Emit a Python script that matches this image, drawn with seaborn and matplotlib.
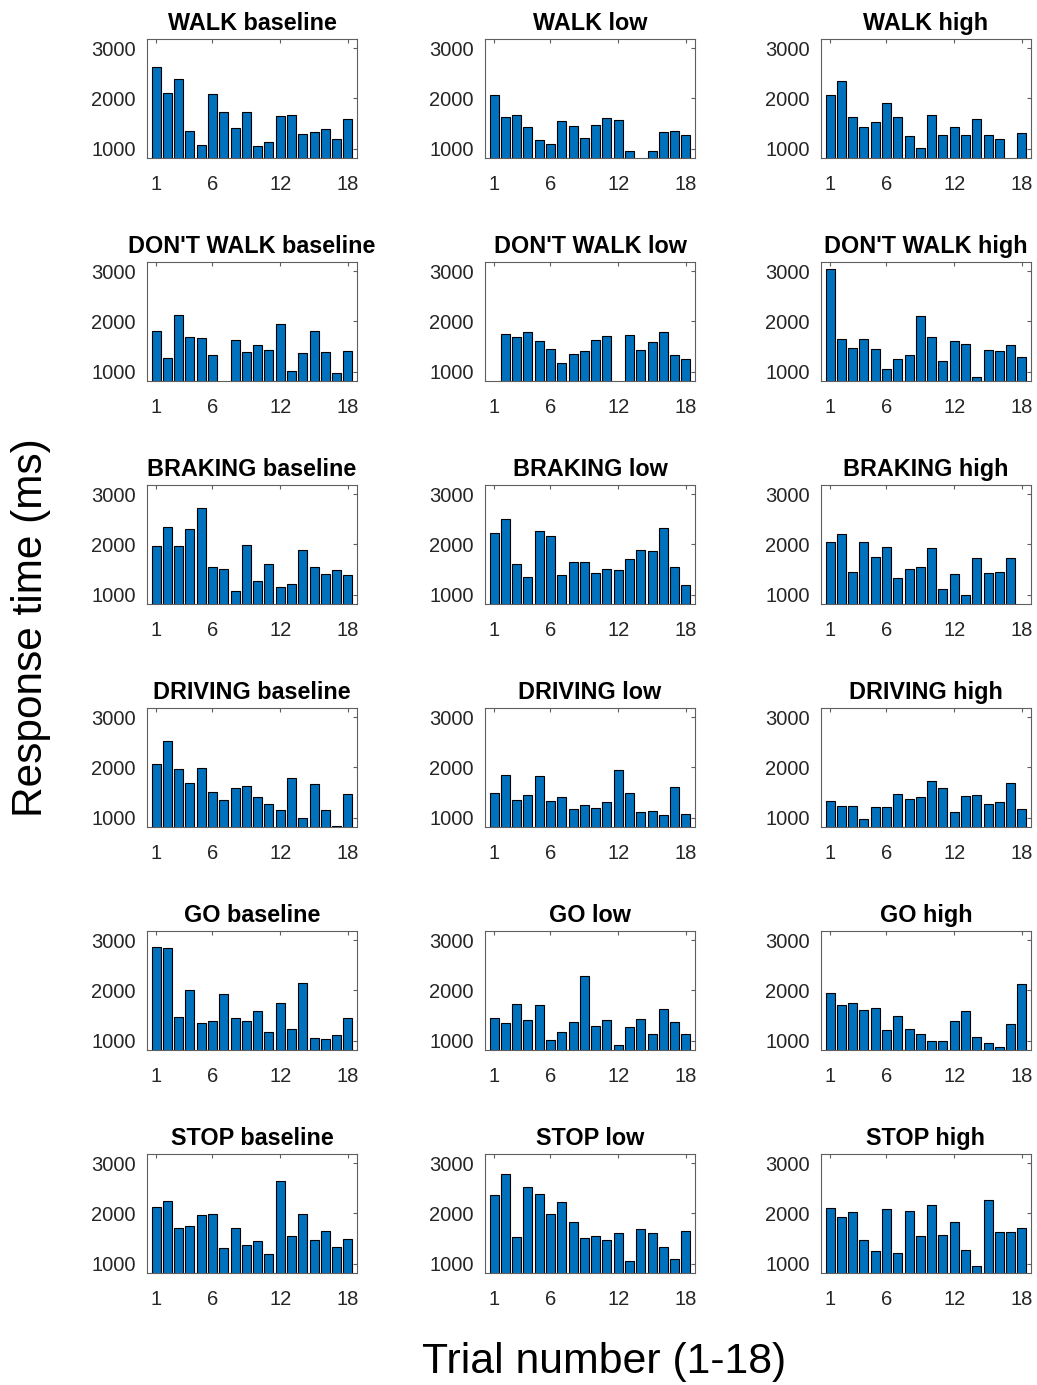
import numpy as np
import pandas as pd
import matplotlib
matplotlib.use("Agg")
import matplotlib.pyplot as plt
import seaborn as sns

nan = np.nan
trials = list(range(1, 19))
conditions = ["WALK", "DON'T WALK", "BRAKING", "DRIVING", "GO", "STOP"]
loads = ["baseline", "low", "high"]

walk_baseline = [2613, 2113, 2387, 1353, 1067, 2087, 1733, 1413, 1727, 1053, 1133, 1647, 1673, 1280, 1333, 1387, 1200, 1587]
walk_low = [2060, 1633, 1667, 1420, 1173, 1087, 1547, 1453, 1207, 1473, 1600, 1573, 947, nan, 947, 1327, 1347, 1260]
walk_high = [2060, 2340, 1620, 1427, 1527, 1913, 1627, 1240, 1007, 1667, 1267, 1420, 1267, 1593, 1267, 1187, nan, 1307]

dontwalk_baseline = [1813, 1273, 2127, 1687, 1660, 1327, nan, 1620, 1380, 1520, 1420, 1947, 1013, 1373, 1800, 1393, 973, 1413]
dontwalk_low = [nan, 1747, 1687, 1793, 1600, 1453, 1180, 1353, 1413, 1627, 1713, nan, 1727, 1420, 1587, 1793, 1320, 1240]
dontwalk_high = [3040, 1640, 1460, 1647, 1453, 1060, 1240, 1327, 2113, 1693, 1207, 1613, 1547, 887, 1420, 1407, 1520, 1287]

braking_baseline = [1960, 2353, 1973, 2300, 2727, 1547, 1500, 1067, 1993, 1267, 1613, 1153, 1213, 1887, 1553, 1413, 1487, 1380]
braking_low = [2220, 2500, 1607, 1353, 2267, 2167, 1387, 1647, 1647, 1433, 1500, 1493, 1713, 1880, 1860, 2333, 1540, 1200]
braking_high = [2040, 2200, 1440, 2040, 1747, 1953, 1320, 1507, 1547, 1933, 1107, 1400, 1000, 1733, 1433, 1453, 1733, nan]

driving_baseline = [2067, 2520, 1967, 1680, 1980, 1500, 1353, 1580, 1627, 1407, 1273, 1153, 1780, 1000, 1660, 1147, 827, 1467]
driving_low = [1480, 1840, 1347, 1453, 1833, 1327, 1413, 1167, 1253, 1193, 1313, 1953, 1480, 1120, 1140, 1053, 1607, 1067]
driving_high = [1333, 1233, 1220, 973, 1207, 1207, 1467, 1367, 1407, 1727, 1580, 1120, 1427, 1447, 1273, 1300, 1680, 1180]

go_baseline = [2867, 2833, 1460, 2000, 1340, 1387, 1927, 1447, 1393, 1593, 1180, 1753, 1227, 2147, 1053, 1040, 1107, 1447]
go_low = [1447, 1353, 1727, 1413, 1707, 1013, 1180, 1373, 2293, 1293, 1400, 913, 1267, 1420, 1133, 1627, 1367, 1127]
go_high = [1947, 1713, 1747, 1613, 1640, 1207, 1480, 1233, 1127, 1000, 1000, 1393, 1593, 1073, 947, 873, 1320, 2120]

stop_baseline = [2133, 2240, 1707, 1753, 1960, 1987, 1300, 1707, 1367, 1447, 1200, 2647, 1553, 1993, 1473, 1647, 1327, 1493]
stop_low = [2367, 2787, 1533, 2520, 2387, 1980, 2220, 1827, 1507, 1553, 1473, 1600, 1060, 1680, 1607, 1333, 1100, 1653]
stop_high = [2100, 1927, 2020, 1473, 1240, 2087, 1207, 2053, 1547, 2173, 1567, 1827, 1267, 960, 2260, 1633, 1627, 1707]

panels = [
    [walk_baseline, walk_low, walk_high],
    [dontwalk_baseline, dontwalk_low, dontwalk_high],
    [braking_baseline, braking_low, braking_high],
    [driving_baseline, driving_low, driving_high],
    [go_baseline, go_low, go_high],
    [stop_baseline, stop_low, stop_high],
]

xticks = [1, 6, 12, 18]
yticks = [1000, 2000, 3000]

sns.set_theme(style="white")
plt.rcParams["font.family"] = ["Liberation Sans", "DejaVu Sans"]

W, H = 1037, 1385
fig = plt.figure(figsize=(W / 100, H / 100), dpi=100)

col_left = [147, 485, 821]
ax_w = 210
row_top0 = 39
row_step = 223
ax_h = 119

bar_color = "#0072BD"
frame_color = "#5f5f5f"
text_color = "#262626"

for r, cond in enumerate(conditions):
    for c, load in enumerate(loads):
        top = row_top0 + r * row_step
        ax = fig.add_axes([col_left[c] / W, 1 - (top + ax_h) / H, ax_w / W, ax_h / H])
        df = pd.DataFrame({"trial": trials, "rt": panels[r][c]})
        sns.barplot(data=df, x="trial", y="rt", native_scale=True, errorbar=None,
                    color=bar_color, saturation=1, width=0.8,
                    edgecolor="black", linewidth=0.8, ax=ax)
        ax.set_xlim(0.2, 18.8)
        ax.set_ylim(812, 3180)
        ax.set_xticks(xticks)
        ax.set_xticklabels([str(t) for t in xticks])
        ax.set_yticks(yticks)
        ax.set_yticklabels([str(t) for t in yticks])
        ax.set_xlabel("")
        ax.set_ylabel("")
        ax.tick_params(direction="in", top=True, right=True, length=3, width=0.8,
                       color=frame_color, labelsize=14.5, labelcolor=text_color)
        ax.tick_params(axis="x", pad=12)
        ax.tick_params(axis="y", pad=8)
        for s in ax.spines.values():
            s.set_visible(True)
            s.set_color(frame_color)
            s.set_linewidth(0.8)
        ax.set_title(f"{cond} {load}", fontsize=16.8, fontweight="bold", color="black", pad=6.5)

fig.text(31 / W, 1 - 628 / H, "Response time (ms)", rotation=90, ha="center", va="center",
         fontsize=30.5, color="black")
fig.text(604 / W, 1 - 1362 / H, "Trial number (1-18)", ha="center", va="center",
         fontsize=30.8, color="black")

fig.savefig("out.png", dpi=100, facecolor="white")
